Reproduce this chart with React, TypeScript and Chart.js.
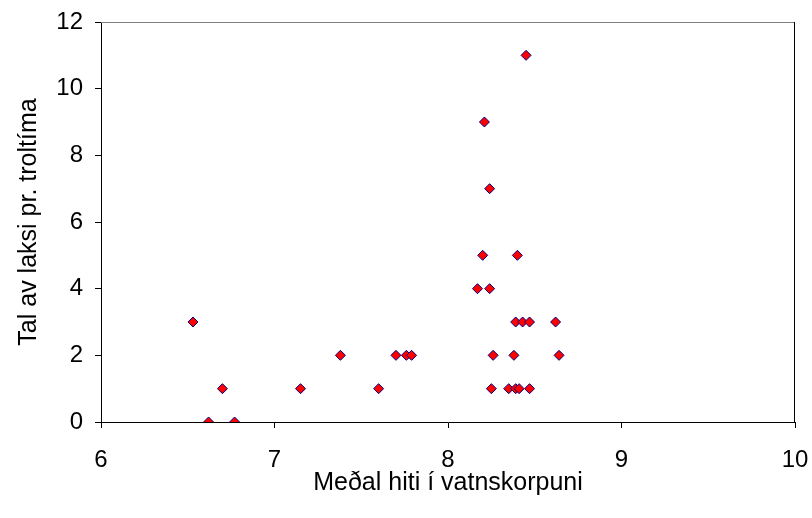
import React, { useEffect, useRef } from "react";
import { Chart, registerables } from "chart.js";

Chart.register(...registerables);

const xValues: number[] = [
  6.53, 6.62, 6.7, 6.77, 7.15, 7.38, 7.6, 7.7, 7.76, 7.79,
  8.17, 8.2, 8.21, 8.24, 8.24, 8.25, 8.26, 8.35, 8.38, 8.39,
  8.39, 8.4, 8.41, 8.43, 8.45, 8.47, 8.47, 8.62, 8.64,
];
const yValues: number[] = [
  3, 0, 1, 0, 1, 2, 1, 2, 2, 2,
  4, 5, 9, 7, 4, 1, 2, 1, 2, 1,
  3, 5, 1, 3, 11, 3, 1, 3, 2,
];
const xTitle = "Meðal hiti í vatnskorpuni";
const yTitle = "Tal av laksi pr. troltíma";

const FONT = "'Liberation Sans', Arial, sans-serif";

const framePlugin = {
  id: "frame",
  afterDraw(chart: any) {
    const { ctx, chartArea } = chart;
    const { left, right, top, bottom } = chartArea;
    ctx.save();
    ctx.lineWidth = 1;
    ctx.strokeStyle = "#808080";
    ctx.beginPath();
    ctx.moveTo(left, top + 0.5);
    ctx.lineTo(right, top + 0.5);
    ctx.stroke();
    ctx.strokeStyle = "#000000";
    ctx.beginPath();
    ctx.moveTo(right - 0.5, top);
    ctx.lineTo(right - 0.5, bottom);
    ctx.stroke();
    ctx.restore();
  },
};

export default function App() {
  const ref = useRef<HTMLCanvasElement | null>(null);
  useEffect(() => {
    if (!ref.current) return;
    const data = xValues.map((x, i) => ({ x, y: yValues[i] }));
    const chart = new Chart(ref.current, {
      type: "scatter",
      data: {
        datasets: [
          {
            data,
            pointStyle: "rectRot",
            pointRadius: 5,
            pointHoverRadius: 5,
            backgroundColor: "#FF0000",
            borderColor: "#000080",
            borderWidth: 1,
          },
        ],
      },
      options: {
        responsive: false,
        animation: false,
        layout: { padding: { top: 22, right: 17, left: 0, bottom: 0 } },
        plugins: {
          legend: { display: false },
          tooltip: { enabled: false },
        },
        scales: {
          x: {
            type: "linear",
            min: 6,
            max: 10,
            afterFit: (s: any) => {
              s.height = 96;
              s.paddingLeft = 0;
              s.paddingRight = 0;
            },
            ticks: {
              stepSize: 1,
              color: "#000",
              padding: 18,
              font: { family: FONT, size: 24 },
            },
            grid: {
              drawOnChartArea: false,
              drawTicks: true,
              tickLength: 6,
              color: "#000",
            },
            border: { display: true, color: "#000", width: 1 },
            title: {
              display: true,
              text: xTitle,
              color: "#000",
              font: { family: FONT, size: 25 },
              padding: { top: 0, bottom: 20 },
            },
          },
          y: {
            type: "linear",
            min: 0,
            max: 12,
            afterFit: (s: any) => {
              s.width = 101;
              s.paddingTop = 0;
              s.paddingBottom = 0;
            },
            ticks: {
              stepSize: 2,
              color: "#000",
              padding: 12,
              font: { family: FONT, size: 24 },
            },
            grid: {
              drawOnChartArea: false,
              drawTicks: true,
              tickLength: 6,
              color: "#000",
            },
            border: { display: true, color: "#000", width: 1 },
            title: {
              display: true,
              text: yTitle,
              color: "#000",
              font: { family: FONT, size: 25 },
              padding: { top: 14, bottom: 0 },
            },
          },
        },
      },
      plugins: [framePlugin],
    });
    return () => chart.destroy();
  }, []);
  return (
    <div style={{ position: "fixed", left: 0, top: 0, width: 812, height: 518, background: "#fff" }}>
      <canvas ref={ref} width={812} height={518} />
    </div>
  );
}
